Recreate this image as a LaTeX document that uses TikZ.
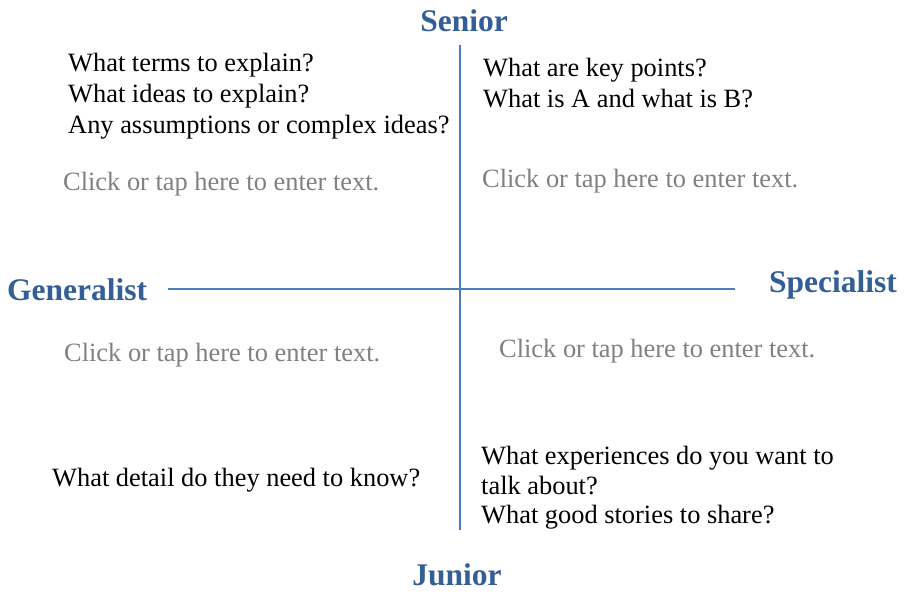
\documentclass[tikz,border=0pt]{standalone}
\usepackage{fontspec}
\setmainfont{Liberation Serif}
\definecolor{axisblue}{HTML}{4A7EBB}
\definecolor{labelblue}{HTML}{335E96}
\definecolor{hintgray}{HTML}{808080}
\tikzset{
  axislabel/.style={font=\fontsize{31.5}{34}\selectfont\bfseries, text=labelblue, inner sep=0pt},
  question/.style={font=\fontsize{26.4}{31}\selectfont, text=black, anchor=west, inner sep=0pt, align=left},
  hint/.style={font=\fontsize{26.4}{30}\selectfont, text=hintgray, anchor=west, inner sep=0pt},
  axis/.style={draw=axisblue, line width=1.6pt}
}
\begin{document}
\begin{tikzpicture}[x=1pt,y=-1pt]
\useasboundingbox (0,0) rectangle (910,593);
% axes
\coordinate (top) at (460,45);
\coordinate (bottom) at (460,530);
\coordinate (left) at (168,289);
\coordinate (right) at (735,289);
\draw[axis] (top) -- (bottom);
\draw[axis] (left) -- (right);
% axis labels
\node[axislabel] (senior) at (464,21) {Senior};
\node[axislabel] (junior) at (457,575) {Junior};
\node[axislabel, anchor=west] (generalist) at (7,290) {Generalist};
\node[axislabel, anchor=west] (specialist) at (769,285) {Specialist};
% questions
\node[question] (q1) at (68,96) {What terms to explain?\\What ideas to explain?\\Any assumptions or complex ideas?};
\node[question] (q2) at (483,83) {What are key points?\\What is A and what is B?};
\node[question] (q3) at (52,480) {What detail do they need to know?};
\node[question, font=\fontsize{26.4}{29.5}\selectfont] (q4) at (481,488) {What experiences do you want to\\talk about?\\What good stories to share?};
% hints
\node[hint] (h1) at (63,184) {Click or tap here to enter text.};
\node[hint] (h2) at (482,181) {Click or tap here to enter text.};
\node[hint] (h3) at (64,355) {Click or tap here to enter text.};
\node[hint] (h4) at (499,351) {Click or tap here to enter text.};
\end{tikzpicture}
\end{document}
